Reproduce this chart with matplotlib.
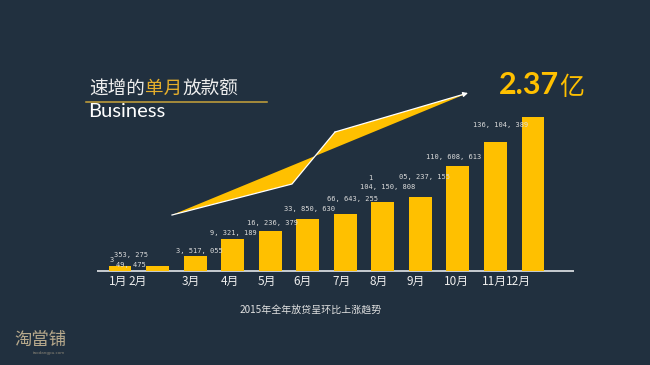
import matplotlib
matplotlib.use("Agg")
import matplotlib.pyplot as plt
from matplotlib.patches import Polygon

# --- datos ---
meses = ["1月", "2月", "3月", "4月", "5月", "6月", "7月", "8月", "9月", "10月", "11月", "12月"]
# altura visual de cada barra (tal como está dibujada en la lámina, no proporcional)
alturas = [5, 5, 15, 32, 40, 52, 57, 69, 74, 105, 129, 154]
etiquetas = ["353, 275", "49, 475", "3, 517, 055", "9, 321, 189", "16, 236, 379",
             "33, 850, 630", "66, 643, 255", "104, 150, 808", "05, 237, 155",
             "110, 608, 613", "136, 104, 389", ""]
total = "2.37"

# --- estilo / layout (pixeles) ---
BG = "#21303f"
AMARILLO = "#ffc000"
ORO = "#c9a33a"
BLANCO = "#eeeeee"
CJK = ["Noto Sans CJK SC", "DejaVu Sans"]
PT = 0.72  # px -> pt a 100 dpi
W, H = 650, 365
base_y = 270.5
x0, paso = 101.2, 37.55

etiqueta_off = [(11, 10), (-27, 1), (4, 5), (1, 6), (2, 7), (2, 10),
                (7, 15), (5, 15), (4, 19), (-4, 9), (5, 17), (0, 0)]
mes_off = [-2, -20, -4, -3, -3, -5, -4, -4, -5, -1, -1, -15]

fig = plt.figure(figsize=(6.5, 3.65), dpi=100)
fig.patch.set_facecolor(BG)

# capa de decoración en coordenadas de pixel
deco = fig.add_axes([0, 0, 1, 1])
deco.set_xlim(0, W)
deco.set_ylim(H, 0)
deco.axis("off")
deco.patch.set_alpha(0)

# línea base
deco.plot([97, 574], [base_y, base_y], color="#d5d9dd", lw=1.3, solid_capstyle="butt", zorder=1)

# cinta amarilla con flecha
cinta = [(172, 215), (292, 184), (335, 132), (468, 93)]
deco.add_patch(Polygon(cinta, closed=True, facecolor=AMARILLO, edgecolor="none", zorder=2))
xs, ys = zip(*cinta[:3])
deco.plot(xs, ys, color="white", lw=0.9, zorder=3)
deco.annotate("", xy=cinta[3], xytext=cinta[2],
              arrowprops=dict(arrowstyle="-|>", color="white", lw=0.9,
                              mutation_scale=7, shrinkA=0, shrinkB=0), zorder=3)

# título
deco.text(89, 89, "速增的", color=BLANCO, fontsize=13.4, family=CJK, va="center", ha="left")
deco.text(145, 89, "单月", color="#e5ae2b", fontsize=13.4, family=CJK, va="center", ha="left")
deco.text(182, 89, "放款额", color=BLANCO, fontsize=13.4, family=CJK, va="center", ha="left")
deco.plot([86, 267], [102, 102], color=ORO, lw=1.1)
deco.text(88, 117, "Business", color="white", fontsize=14.5, family="Lato", va="baseline", ha="left")

# total
deco.text(499, 94, total, color=AMARILLO, fontsize=22, family="Lato", fontweight="bold",
          va="baseline", ha="left")
deco.text(559, 95, "亿", color=AMARILLO, fontsize=18, family=CJK, va="baseline", ha="left")

# subtítulo
deco.text(311, 310, "2015年全年放贷呈环比上涨趋势", color="#e2e2e2", fontsize=7.2,
          family=CJK, va="center", ha="center")

# logo
deco.text(14, 340, "淘當铺", color="#b7a98c", fontsize=12.5, family=CJK, fontweight="light",
          va="center", ha="left")
deco.text(49, 353, "taodangpu.com", color="#8a8577", fontsize=3, va="center", ha="center")

# --- barras ---
ax = fig.add_axes([x0 / W, (H - base_y) / H, 12 * paso / W, 160 / H])
ax.patch.set_alpha(0)
ax.set_xlim(-0.5, 11.5)
ax.set_ylim(0, 160)
ax.axis("off")
pos = list(range(len(meses)))
ax.bar(pos, alturas, width=0.61, color=AMARILLO, zorder=2)

for i, (h, txt) in enumerate(zip(alturas, etiquetas)):
    dx, dy = etiqueta_off[i]
    if txt:
        ax.annotate(txt, xy=(i, h), xytext=(dx * PT, dy * PT), textcoords="offset points",
                    ha="center", va="center", fontsize=5, family="DejaVu Sans Mono",
                    color="#dcdcdc", annotation_clip=False)
    ax.annotate(meses[i], xy=(i, 0), xytext=(mes_off[i] * PT, -10.5 * PT),
                textcoords="offset points", ha="center", va="center", fontsize=8.5,
                family=CJK, color=BLANCO, annotation_clip=False)

# restos de texto recortado en la lámina original
ax.annotate("3", xy=(0, alturas[0]), xytext=(-8 * PT, 6 * PT), textcoords="offset points",
            ha="center", va="center", fontsize=5, family="DejaVu Sans Mono", color="#dcdcdc")
ax.annotate("1", xy=(7, alturas[7]), xytext=(-13 * PT, 24 * PT), textcoords="offset points",
            ha="center", va="center", fontsize=5, family="DejaVu Sans Mono", color="#dcdcdc")

fig.savefig("out.png", dpi=100, facecolor=BG)
plt.close(fig)
